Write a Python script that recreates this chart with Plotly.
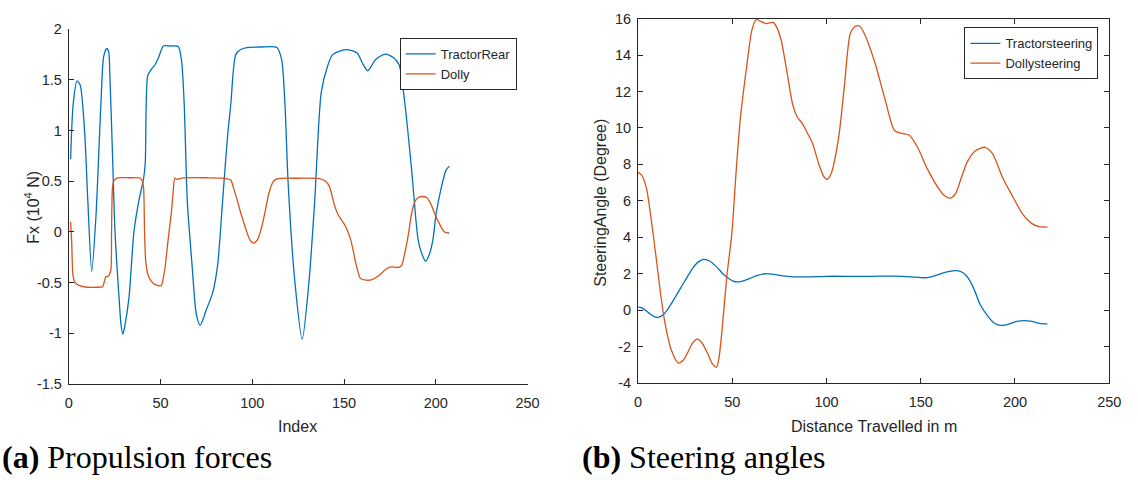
import plotly.graph_objects as go

# ---- (a) Propulsion forces: Fx in 10^4 N against sample index ----
tractor_rear_idx = [1, 2.4, 4.5, 6.2, 8.6, 10.4, 12.5, 14.8, 17.5, 19, 20.6, 21.7, 22.4, 23.8, 25.2,
                    27.4, 28.5, 29.5, 30.5, 32.8, 35.5, 38.1, 40.8, 41.7, 43, 44.8, 47, 48.9, 51.6, 55, 59.6,
                    61.4, 62.9, 64.6, 67.2, 69.5, 71.6, 74.9, 78.4, 81.1, 83.8, 86.5, 88.3, 91, 93.7,
                    97, 105, 113.4, 116, 117.8, 119.6, 123.2, 127.2, 130.9, 134, 137.6, 141.1, 143.8,
                    151, 157.2, 159.9, 163, 167.1, 172.5, 177, 180, 183.2, 186.8, 190.4, 192.5, 194.5,
                    196.5, 198.4, 200.2, 202.9, 205.6, 207.4]
tractor_rear_fx = [0.72, 1.26, 1.49, 1.45, 1.0, 0.30, -0.39, 0.15, 1.26, 1.73, 1.81, 1.78, 1.54, 0.78, 0.0,
                   -0.65, -0.92, -1.01, -0.93, -0.65, 0.0, 0.30, 0.53, 0.69, 1.54, 1.60, 1.65, 1.72, 1.835, 1.835, 1.83,
                   1.70, 1.26, 0.30, -0.33, -0.81, -0.92, -0.77, -0.60, -0.33, 0.30, 0.94, 1.26, 1.75, 1.80,
                   1.82, 1.825, 1.82, 1.70, 1.26, 0.46, -0.49, -1.06, -0.49, 0.30, 1.38, 1.64, 1.75,
                   1.80, 1.765, 1.67, 1.59, 1.70, 1.755, 1.72, 1.65, 1.26, 0.62, -0.08, -0.22, -0.29,
                   -0.22, -0.08, 0.18, 0.43, 0.61, 0.65]

dolly_idx = [1, 1.6, 2.3, 3.5, 5.9, 10, 15, 18.4, 19.5, 20.2, 21, 21.7, 22.9, 23.3, 23.8, 24.5, 26.5,
             33, 39, 40.3, 40.8, 41.3, 42, 43.5, 46.2, 50.3, 51.4, 52.4, 54, 56, 57, 57.8, 59, 62.3,
             75, 85, 88.3, 90, 92, 94, 96.5, 98.5, 100.8, 103, 105, 107, 109, 111.5, 113.5, 125,
             136.6, 140, 142, 144.7, 146.5, 151, 153.7, 156.7, 159, 162, 165.3, 169, 173.3, 176,
             179.6, 181.4, 183.2, 185, 186.8, 188.6, 190.5, 193, 195, 197.5, 199.4, 202, 204.7, 207.4]
dolly_fx = [0.10, -0.10, -0.43, -0.50, -0.53, -0.545, -0.545, -0.54, -0.48, -0.44, -0.44, -0.43, -0.38, 0.0, 0.43, 0.50, 0.533,
            0.535, 0.53, 0.49, 0.43, 0.0, -0.30, -0.44, -0.51, -0.53, -0.46, -0.36, -0.10, 0.21, 0.42, 0.53, 0.52, 0.533,
            0.535, 0.53, 0.51, 0.42, 0.30, 0.17, 0.03, -0.07, -0.11, -0.07, 0.04, 0.20, 0.38, 0.50, 0.525, 0.53,
            0.527, 0.50, 0.45, 0.27, 0.18, 0.05, -0.08, -0.33, -0.46, -0.475, -0.47, -0.43, -0.36, -0.345,
            -0.35, -0.33, -0.20, -0.03, 0.18, 0.30, 0.34, 0.35, 0.34, 0.27, 0.18, 0.08, 0.0, -0.01]

# ---- (b) Steering angles in degrees against distance travelled ----
tractor_steer_dist = [0.2, 2.5, 5.4, 8, 10.6, 13, 15.8, 20, 24.6, 29, 32, 35, 38, 42, 45, 48.1, 50.5, 52.5,
                      55, 59.5, 63, 67.3, 71, 76, 82.1, 90, 100, 110, 118.7, 128, 136.1, 145, 151.8, 155,
                      158.8, 164, 169.3, 172.5, 175.4, 178.5, 181.5, 185, 188.4, 191, 193.7, 197, 201,
                      205, 209, 213, 217.2]
tractor_steer_deg = [0.18, 0.10, -0.12, -0.32, -0.40, -0.28, 0.05, 0.75, 1.56, 2.30, 2.65, 2.79, 2.70, 2.35, 2.0, 1.74, 1.60, 1.55,
                     1.58, 1.74, 1.90, 2.0, 1.98, 1.90, 1.83, 1.83, 1.86, 1.86, 1.85, 1.87, 1.87, 1.83, 1.78, 1.82,
                     1.94, 2.10, 2.17, 2.05, 1.73, 1.10, 0.31, -0.25, -0.66, -0.80, -0.83, -0.75, -0.62,
                     -0.57, -0.62, -0.72, -0.75]

dolly_steer_dist = [0, 2, 4.5, 7, 9.5, 12, 14.1, 17.6, 21.4, 24, 26.3, 29, 31.5, 34, 36.8, 39.5, 41.7, 43,
                    44.6, 47.2, 49.8, 52, 54.2, 57.7, 60.5, 62.9, 65, 68.1, 71.7, 73.5, 76, 79, 82.1, 84.5,
                    87.3, 90, 92.6, 96, 98.5, 100.4, 102.5, 106.5, 109.5, 112.6, 115, 117.3, 120, 125.7,
                    131, 136.1, 140, 144, 148.5, 153.6, 160, 163, 165.8, 168.5, 171, 174.5, 179, 184.1,
                    188, 193.7, 199, 204.1, 209, 213, 217.2]
dolly_steer_deg = [7.56, 7.40, 6.70, 5.0, 3.0, 0.9, -0.57, -2.16, -2.90, -2.75, -2.34, -1.80, -1.59, -1.80, -2.34, -2.95, -3.13, -2.60,
                   -1.09, 1.91, 4.2, 7.5, 10.39, 13.4, 15.4, 15.96, 15.85, 15.73, 15.79, 15.55, 14.8, 13.1, 11.28, 10.6,
                   10.22, 9.7, 9.16, 8.0, 7.35, 7.18, 7.5, 9.51, 12.3, 15.17, 15.55, 15.61, 15.2, 13.58,
                   11.6, 9.86, 9.7, 9.6, 8.9, 7.74, 6.6, 6.25, 6.15, 6.4, 7.1, 8.1, 8.75, 8.94,
                   8.6, 7.21, 6.2, 5.27, 4.75, 4.58, 4.56]

# tick values and labels
x_ticks = [0, 50, 100, 150, 200, 250]
fx_ticks = [-1.5, -1, -0.5, 0, 0.5, 1, 1.5, 2]
fx_tick_text = ["-1.5", "-1", "-0.5", "0", "0.5", "1", "1.5", "2"]
deg_ticks = [-4, -2, 0, 2, 4, 6, 8, 10, 12, 14, 16]
deg_tick_text = ["-4", "-2", "0", "2", "4", "6", "8", "10", "12", "14", "16"]

BLUE = "#0072BD"
ORANGE = "#D95319"
INK = "#262626"
W, H = 1138, 480
SANS = "Liberation Sans, Arial, sans-serif"

def px_x(p):
    return p / W

def px_y(p):
    return 1 - p / H

line_style = dict(width=1.3, shape="spline", smoothing=0.7)

fig = go.Figure()
fig.add_trace(go.Scatter(x=tractor_rear_idx, y=tractor_rear_fx, name="TractorRear", mode="lines",
                         line=dict(color=BLUE, **line_style), xaxis="x", yaxis="y", legend="legend"))
fig.add_trace(go.Scatter(x=dolly_idx, y=dolly_fx, name="Dolly", mode="lines",
                         line=dict(color=ORANGE, **line_style), xaxis="x", yaxis="y", legend="legend"))
fig.add_trace(go.Scatter(x=tractor_steer_dist, y=tractor_steer_deg, name="Tractorsteering", mode="lines",
                         line=dict(color=BLUE, **line_style), xaxis="x2", yaxis="y2", legend="legend2"))
fig.add_trace(go.Scatter(x=dolly_steer_dist, y=dolly_steer_deg, name="Dollysteering", mode="lines",
                         line=dict(color=ORANGE, **line_style), xaxis="x2", yaxis="y2", legend="legend2"))

tick_font = dict(family=SANS, size=14.5, color=INK)
axis_common = dict(showgrid=False, zeroline=False, showline=True, linecolor=INK, linewidth=1,
                   ticks="inside", ticklen=5, tickcolor=INK, tickwidth=1, tickfont=tick_font)
x_axis_extra = dict(ticklabelstandoff=6)
y_axis_extra = dict(ticklabelstandoff=3)

legend_common = dict(bgcolor="white", bordercolor=INK, borderwidth=1,
                     font=dict(family=SANS, size=13, color=INK),
                     xanchor="right", yanchor="top", tracegroupgap=0, itemwidth=30)

fig.update_layout(
    width=W, height=H,
    margin=dict(l=0, r=0, t=0, b=0),
    paper_bgcolor="white", plot_bgcolor="white",
    xaxis=dict(domain=[px_x(65.7), px_x(531)], range=[0, 250], tickvals=x_ticks,
               anchor="y", mirror=False, **axis_common, **x_axis_extra),
    yaxis=dict(domain=[px_y(389), px_y(22)], range=[-1.5, 2], tickvals=fx_ticks, ticktext=fx_tick_text,
               anchor="x", mirror=False, **axis_common, **y_axis_extra),
    xaxis2=dict(domain=[px_x(643), px_x(1121)], range=[0, 250], tickvals=x_ticks,
                anchor="y2", mirror="ticks", **axis_common, **x_axis_extra),
    yaxis2=dict(domain=[px_y(388), px_y(11)], range=[-4, 16], tickvals=deg_ticks, ticktext=deg_tick_text,
                anchor="x2", mirror="ticks", **axis_common, **y_axis_extra),
    legend=dict(x=px_x(520), y=px_y(31), **legend_common),
    legend2=dict(x=px_x(1110), y=px_y(20), **legend_common),
    showlegend=True,
)

label_font = dict(family=SANS, size=16, color=INK)
caption_font = dict(family="Liberation Serif, Times New Roman, serif", size=32, color="black")

fig.add_annotation(text="Index", x=px_x(298), y=px_y(433), xref="paper", yref="paper",
                   showarrow=False, font=label_font, xanchor="center", yanchor="middle")
fig.add_annotation(text="Fx (10<sup>4</sup> N)", x=px_x(29), y=px_y(206), xref="paper", yref="paper",
                   showarrow=False, font=label_font, textangle=-90, xanchor="center", yanchor="middle")
fig.add_annotation(text="Distance Travelled in m", x=px_x(882), y=px_y(433), xref="paper", yref="paper",
                   showarrow=False, font=label_font, xanchor="center", yanchor="middle")
fig.add_annotation(text="SteeringAngle (Degree)", x=px_x(605), y=px_y(201), xref="paper", yref="paper",
                   showarrow=False, font=label_font, textangle=-90, xanchor="center", yanchor="middle")

fig.add_annotation(text="<b>(a)</b> Propulsion forces", x=px_x(-4), y=px_y(464), xref="paper", yref="paper",
                   showarrow=False, font=caption_font, xanchor="left", yanchor="middle")
fig.add_annotation(text="<b>(b)</b> Steering angles", x=px_x(584), y=px_y(464), xref="paper", yref="paper",
                   showarrow=False, font=caption_font, xanchor="left", yanchor="middle")

fig.write_html("out.html")
